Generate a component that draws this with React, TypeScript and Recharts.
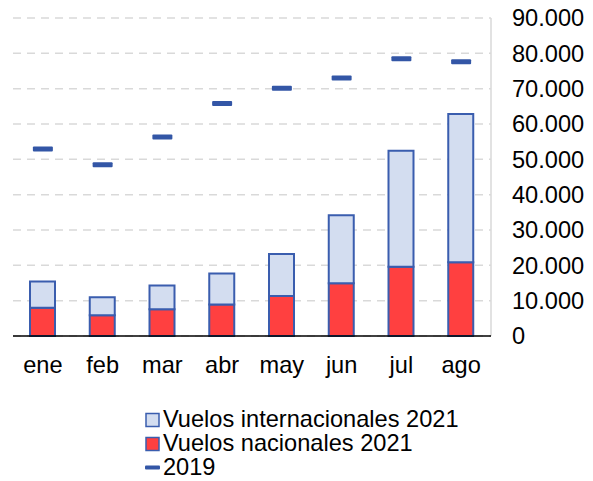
import React from 'react';
import { ComposedChart, Bar, Line, XAxis, YAxis, CartesianGrid } from 'recharts';

const months = ['ene', 'feb', 'mar', 'abr', 'may', 'jun', 'jul', 'ago'];
const nacionales2021 = [8000, 5850, 7600, 8900, 11300, 14900, 19600, 20900];
const totales2021 = [15400, 11000, 14300, 17700, 23200, 34200, 52400, 62800];
const vuelos2019 = [52900, 48500, 56300, 65800, 70100, 73000, 78500, 77600];
const yTicks = [0, 10000, 20000, 30000, 40000, 50000, 60000, 70000, 80000, 90000];
const legendLabels = ['Vuelos internacionales 2021', 'Vuelos nacionales 2021', '2019'];

const data = months.map((m, i) => ({
  month: m,
  nac: nacionales2021[i],
  intl: totales2021[i] - nacionales2021[i],
  y2019: vuelos2019[i],
}));

const FONT = '"Liberation Sans", Arial, sans-serif';
const FS = 23.6;
const BLUE = '#3A5DAE';
const MARK = '#3356A6';
const RED = '#FF4040';
const LIGHT = '#D3DDF0';

const fmt = (v: number) => v.toLocaleString('de-DE');

const Dash = (props: any) => {
  const { cx, cy } = props;
  if (cx == null || cy == null) return null;
  return <rect x={cx - 10} y={cy - 2.5} width={20} height={5} rx={1} fill={MARK} />;
};

export default function App() {
  return (
    <div style={{ width: 593, height: 481, position: 'relative', fontFamily: FONT, overflow: 'hidden' }}>
      <style>{`html,body{margin:0;padding:0;overflow:hidden;}`}</style>
      <ComposedChart
        width={593}
        height={481}
        data={data}
        margin={{ top: 18, right: 2, left: 13, bottom: 105 }}
        barCategoryGap={0}
      >
        <CartesianGrid vertical={false} stroke="#D9D9D9" strokeWidth={1.5} strokeDasharray="8 6" yAxisId="r" />
        <XAxis xAxisId="top" orientation="top" dataKey="month" height={0} tick={false} tickLine={false} axisLine={{ stroke: '#D9D9D9', strokeWidth: 1.5 }} />
        <YAxis yAxisId="l" orientation="left" width={0} tick={false} tickLine={false} domain={[0, 90000]} axisLine={{ stroke: '#D9D9D9', strokeWidth: 1.5 }} />
        <YAxis
          yAxisId="r"
          orientation="right"
          width={100}
          domain={[0, 90000]}
          ticks={yTicks}
          interval={0}
          tickFormatter={fmt}
          tickLine={false}
          tickSize={0}
          tickMargin={21}
          axisLine={{ stroke: '#D9D9D9', strokeWidth: 1.5 }}
          tick={{ fill: '#000', fontSize: FS, fontFamily: FONT }}
        />
        <XAxis
          dataKey="month"
          height={40}
          tickLine={false}
          tickSize={0}
          tickMargin={20}
          interval={0}
          axisLine={{ stroke: '#000', strokeWidth: 1.5 }}
          tick={{ fill: '#000', fontSize: FS, fontFamily: FONT }}
        />
        <Bar yAxisId="r" dataKey="nac" stackId="a" fill={RED} stroke={BLUE} strokeWidth={2} barSize={25} isAnimationActive={false} />
        <Bar yAxisId="r" dataKey="intl" stackId="a" fill={LIGHT} stroke={BLUE} strokeWidth={2} barSize={25} isAnimationActive={false} />
        <Line yAxisId="r" dataKey="y2019" stroke="none" dot={<Dash />} activeDot={false} isAnimationActive={false} />
      </ComposedChart>
      <svg width={593} height={80} style={{ position: 'absolute', left: 0, top: 401 }}>
        <rect x={146} y={413.5 - 401} width={13} height={13} fill={LIGHT} stroke={BLUE} strokeWidth={1.5} />
        <text x={163} y={427 - 401} fontSize={FS} fontFamily={FONT} fill="#000">{legendLabels[0]}</text>
        <rect x={146} y={437.5 - 401} width={13} height={13} fill={RED} stroke={BLUE} strokeWidth={1.5} />
        <text x={163} y={451 - 401} fontSize={FS} fontFamily={FONT} fill="#000">{legendLabels[1]}</text>
        <rect x={145} y={465.5 - 401} width={15} height={4} rx={1} fill={MARK} />
        <text x={163} y={475 - 401} fontSize={FS} fontFamily={FONT} fill="#000">{legendLabels[2]}</text>
      </svg>
    </div>
  );
}
